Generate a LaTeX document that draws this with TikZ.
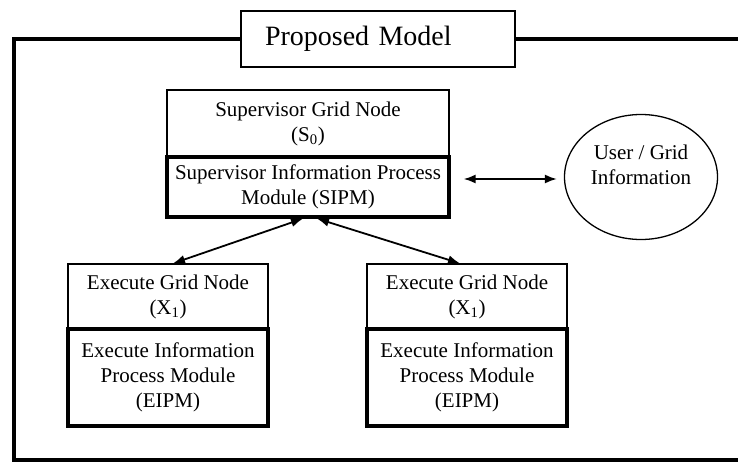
\documentclass[tikz,border=0pt]{standalone}
\usepackage{fontspec}
\setmainfont{Liberation Serif}
\usetikzlibrary{arrows.meta, shapes.geometric}

\begin{document}
\begin{tikzpicture}[x=1pt, y=-1pt,
  frame/.style={line width=3.5pt},
  titlebox/.style={draw, fill=white, line width=1.2pt,
    minimum width=274pt, minimum height=56pt, text width=226pt,
    inner xsep=24pt, align=left, font=\fontsize{28}{32}\selectfont},
  gridbox/.style={draw, line width=1.2pt, inner sep=0pt,
    align=center, font=\fontsize{21}{25}\selectfont},
  modbox/.style={gridbox, line width=3.2pt},
  infobox/.style={ellipse, draw, line width=1.3pt,
    minimum width=153pt, minimum height=125pt, inner sep=0pt,
    align=center, font=\fontsize{21}{25}\selectfont},
  arr/.style={<->, >={Latex[length=12pt, width=9pt]}, line width=1.8pt},
]
\useasboundingbox (0,0) rectangle (738,463);
% outer frame and title
\draw[frame] (738,39) -- (14,39) -- (14,460) -- (738,460);
\node[titlebox] (title) at (378,39) {Proposed Model};
% supervisor
\node[gridbox, minimum width=282pt, minimum height=67pt] (sgn) at (308,123.5)
  {Supervisor Grid Node\\ (S\textsubscript{0})};
\node[modbox, minimum width=282pt, minimum height=60pt] (sipm) at (308,187)
  {Supervisor Information Process\\ Module (SIPM)};
% user / grid information
\node[infobox] (ugi) at (641,177) {User / Grid\\ Information\\ ~};
\draw[arr] ([xshift=13pt, yshift=8pt]sipm.east) -- ([xshift=-7pt, yshift=-2pt]ugi.west);
% execute nodes
\node[gridbox, minimum width=200pt, minimum height=65pt] (egn1) at (168,296.5)
  {Execute Grid Node\\ (X\textsubscript{1})};
\node[modbox, minimum width=200pt, minimum height=97pt] (eipm1) at (168,377.5)
  {Execute Information\\ Process Module\\ (EIPM)};
\node[gridbox, minimum width=200pt, minimum height=65pt] (egn2) at (467,296.5)
  {Execute Grid Node\\ (X\textsubscript{1})};
\node[modbox, minimum width=200pt, minimum height=97pt] (eipm2) at (467,377.5)
  {Execute Information\\ Process Module\\ (EIPM)};
\draw[arr] ([xshift=-5pt]sipm.south) -- ([xshift=5pt]egn1.north);
\draw[arr] ([xshift=9pt]sipm.south) -- ([xshift=-7pt]egn2.north);
\end{tikzpicture}
\end{document}
